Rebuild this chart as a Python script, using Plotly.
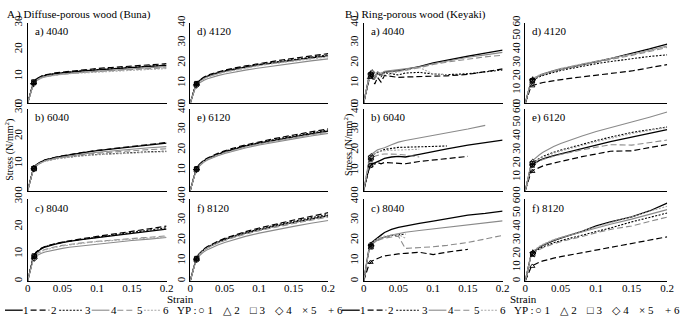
import plotly.graph_objects as go

W, H = 685, 318

# ---------------- data ----------------
STRAIN = [0, 0.004, 0.008, 0.012, 0.016, 0.02, 0.025, 0.03, 0.04, 0.05, 0.06, 0.08, 0.1, 0.12, 0.15, 0.175, 0.2]
SPECIMENS = ["1", "2", "3", "4", "5", "6"]
STRAIN_TICKS = [0, 0.05, 0.1, 0.15, 0.2]
STRAIN_TICK_TEXT = ["0", "0.05", "0.1", "0.15", "0.2"]
N = None

# A) Diffuse-porous wood (Buna)
BUNA_4040 = [
    [0, 3.8, 7.3, 8.8, 9.5, 9.9, 10.3, 10.6, 11.0, 11.3, 11.6, 12.0, 12.4, 12.8, 13.3, 13.7, 14.1],
    [0, 3.9, 7.5, 9.0, 9.7, 10.1, 10.5, 10.8, 11.3, 11.6, 11.9, 12.4, 12.9, 13.3, 13.9, 14.3, 14.7],
    [0, 3.8, 7.4, 8.9, 9.6, 10.0, 10.4, 10.7, 11.1, 11.4, 11.7, 12.1, 12.5, 12.9, 13.4, 13.8, 14.2],
    [0, 3.4, 6.8, 8.3, 9.0, 9.4, 9.8, 10.1, 10.5, 10.8, 11.1, 11.5, 11.9, 12.3, 12.8, 13.2, 13.6],
    [0, 3.6, 7.0, 8.6, 9.3, 9.7, 10.0, 10.3, 10.6, 10.9, 11.1, 11.5, 11.8, 12.1, 12.5, 12.9, 13.2],
    [0, 3.5, 6.9, 8.4, 9.1, 9.5, 9.9, 10.1, 10.5, 10.7, 11.0, 11.3, 11.6, 11.9, 12.3, 12.6, 12.9],
]
BUNA_4120 = [
    [0, 4.5, 9.0, 10.8, 11.8, 12.6, 13.4, 14.0, 15.0, 15.9, 16.6, 17.9, 19.0, 20.0, 21.4, 22.5, 23.5],
    [0, 4.6, 9.3, 11.1, 12.2, 13.0, 13.8, 14.5, 15.5, 16.4, 17.2, 18.5, 19.7, 20.8, 22.3, 23.5, 24.6],
    [0, 4.5, 9.1, 10.9, 11.9, 12.7, 13.5, 14.2, 15.2, 16.1, 16.8, 18.1, 19.3, 20.3, 21.8, 22.9, 24.0],
    [0, 4.0, 8.2, 9.8, 10.7, 11.4, 12.1, 12.7, 13.7, 14.5, 15.2, 16.4, 17.5, 18.5, 19.9, 21.0, 22.0],
    [0, 4.3, 8.8, 10.5, 11.5, 12.3, 13.1, 13.7, 14.7, 15.6, 16.3, 17.6, 18.8, 19.8, 21.2, 22.3, 23.3],
    [0, 4.2, 8.6, 10.3, 11.3, 12.1, 12.9, 13.5, 14.5, 15.4, 16.1, 17.4, 18.6, 19.6, 21.0, 22.1, 23.0],
]
BUNA_6040 = [
    [0, 4.0, 7.8, 9.4, 10.2, 10.7, 11.2, 11.6, 12.2, 12.7, 13.2, 14.0, 14.7, 15.3, 16.2, 16.9, 17.5],
    [0, 4.0, 7.9, 9.5, 10.3, 10.8, 11.3, 11.7, 12.3, 12.8, 13.3, 14.1, 14.8, 15.4, 16.3, 17.0, 17.7],
    [0, 3.9, 7.6, 9.2, 9.9, 10.4, 10.9, 11.2, 11.7, 12.1, 12.4, 12.9, 13.3, 13.6, 14.0, 14.3, 14.5],
    [0, 3.8, 7.5, 9.1, 9.9, 10.4, 10.9, 11.3, 11.9, 12.4, 12.8, 13.5, 14.1, 14.6, 15.3, 15.8, 16.2],
    [0, 3.9, 7.7, 9.3, 10.0, 10.5, 11.0, 11.4, 11.9, 12.3, 12.7, 13.3, 13.8, 14.2, 14.7, 15.1, 15.4],
    [0, 3.8, 7.5, 9.1, 9.8, 10.3, 10.8, 11.1, 11.6, 12.0, 12.3, 12.8, 13.2, 13.5, 13.9, 14.1, 14.3],
]
BUNA_6120 = [
    [0, 5.0, 9.8, 12.2, 13.6, 14.6, 15.6, 16.4, 17.8, 19.0, 20.0, 21.8, 23.3, 24.6, 26.4, 27.8, 29.2],
    [0, 5.1, 10.0, 12.5, 13.9, 15.0, 16.0, 16.9, 18.3, 19.5, 20.6, 22.4, 24.0, 25.4, 27.3, 28.8, 30.3],
    [0, 5.0, 9.9, 12.3, 13.7, 14.8, 15.8, 16.6, 18.0, 19.2, 20.3, 22.1, 23.6, 25.0, 26.8, 28.3, 29.7],
    [0, 4.7, 9.4, 11.7, 13.0, 14.0, 15.0, 15.8, 17.1, 18.2, 19.2, 20.9, 22.4, 23.7, 25.4, 26.8, 28.1],
    [0, 4.9, 9.7, 12.0, 13.4, 14.4, 15.4, 16.2, 17.5, 18.7, 19.7, 21.4, 22.9, 24.2, 26.0, 27.4, 28.7],
    [0, 4.8, 9.6, 11.9, 13.3, 14.3, 15.3, 16.1, 17.4, 18.6, 19.6, 21.3, 22.8, 24.1, 25.8, 27.2, 28.5],
]
BUNA_8040 = [
    [0, 4.3, 8.6, 10.4, 11.3, 11.9, 12.5, 12.9, 13.6, 14.1, 14.6, 15.3, 15.9, 16.5, 17.5, 18.3, 19.1],
    [0, 4.4, 8.8, 10.6, 11.5, 12.1, 12.7, 13.1, 13.8, 14.3, 14.8, 15.6, 16.4, 17.1, 18.2, 19.2, 20.2],
    [0, 4.3, 8.7, 10.5, 11.4, 12.0, 12.6, 13.0, 13.7, 14.2, 14.7, 15.4, 16.1, 16.8, 17.8, 18.7, 19.6],
    [0, 3.9, 7.8, 9.2, 9.8, 10.2, 10.7, 11.0, 11.6, 12.0, 12.4, 13.0, 13.6, 14.1, 14.9, 15.4, 16.0],
    [0, 4.1, 8.2, 9.8, 10.6, 11.1, 11.6, 12.0, 12.6, 13.1, 13.5, 14.1, 14.6, 15.0, 15.6, 16.1, 16.6],
    [0, 4.0, 8.0, 9.6, 10.4, 10.9, 11.4, 11.8, 12.4, 12.9, 13.3, 13.9, 14.5, 14.9, 15.4, 15.8, 16.2],
]
BUNA_8120 = [
    [0, 5.2, 10.2, 12.8, 14.3, 15.4, 16.5, 17.4, 19.0, 20.3, 21.5, 23.5, 25.2, 26.7, 28.8, 30.4, 32.0],
    [0, 5.3, 10.4, 13.0, 14.6, 15.8, 16.9, 17.9, 19.5, 20.9, 22.1, 24.2, 26.0, 27.7, 29.9, 31.7, 33.5],
    [0, 5.2, 10.3, 12.9, 14.4, 15.6, 16.7, 17.6, 19.2, 20.6, 21.8, 23.8, 25.6, 27.2, 29.3, 31.0, 32.7],
    [0, 4.8, 9.6, 12.0, 13.4, 14.4, 15.4, 16.3, 17.7, 18.9, 20.0, 21.9, 23.5, 24.9, 26.8, 28.3, 29.7],
    [0, 5.0, 10.0, 12.5, 14.0, 15.1, 16.2, 17.1, 18.6, 19.9, 21.0, 23.0, 24.7, 26.2, 28.2, 29.8, 31.3],
    [0, 5.1, 10.1, 12.6, 14.1, 15.2, 16.3, 17.2, 18.8, 20.1, 21.3, 23.3, 25.0, 26.5, 28.6, 30.2, 31.8],
]

# B) Ring-porous wood (Keyaki)
KEYAKI_4040 = [
    [0, 7.0, 13.5, 14.8, 12.5, 15.2, 14.0, 15.5, 15.8, 16.2, 16.8, 18.2, 20.0, 21.4, 23.3, 24.8, 26.3],
    [0, 6.5, 12.0, 13.5, 9.5, 12.8, 10.5, 13.8, 13.2, 12.8, 13.0, 13.2, 13.3, 13.6, 14.3, 15.8, 17.0],
    [0, 6.8, 13.0, 14.5, 11.8, 15.0, 13.2, 15.2, 14.5, 14.0, 15.0, 15.3, 14.5, 14.2, 14.6, 15.5, 16.5],
    [0, 7.2, 13.8, 15.3, 13.5, 15.6, 14.8, 15.8, 16.2, 16.6, 17.0, 18.0, 19.6, 21.0, 22.8, 24.0, 25.2],
    [0, 6.9, 13.2, 14.6, 12.2, 14.8, 13.8, 15.2, 15.6, 15.8, 16.3, 17.6, 19.2, 20.4, 22.0, 23.0, 23.8],
    [0, 7.0, 13.3, 15.0, 12.8, 14.5, 15.5, 13.0, 14.8, 15.5, 16.5, 17.8, 14.5, 14.2, N, N, N],
]
KEYAKI_4120 = [
    [0, 8.0, 16.0, 18.2, 19.5, 20.5, 21.6, 22.5, 24.0, 25.4, 26.6, 28.8, 31.0, 33.2, 37.0, 40.4, 44.0],
    [0, 6.5, 12.5, 13.5, 14.2, 14.8, 15.4, 15.9, 16.8, 17.6, 18.3, 19.6, 20.8, 22.0, 24.0, 26.4, 28.7],
    [0, 7.8, 15.5, 17.6, 18.8, 19.7, 20.7, 21.5, 23.0, 24.3, 25.4, 27.5, 29.4, 31.0, 33.3, 34.8, 36.0],
    [0, 8.1, 16.3, 18.4, 19.7, 20.7, 21.8, 22.7, 24.2, 25.6, 26.8, 29.0, 31.0, 33.0, 36.4, 39.4, 42.6],
    [0, 8.0, 15.8, 18.0, 19.3, 20.3, 21.3, 22.2, 23.7, 25.0, 26.2, 28.4, 30.4, 32.4, 35.6, 38.5, 41.5],
    [0, 8.2, 16.5, 18.8, 20.1, 21.1, 22.1, 23.0, 24.5, 25.9, 27.1, 29.3, 31.3, 33.2, 36.3, 39.0, 42.0],
]
KEYAKI_6040 = [
    [0, 6.0, 11.5, 13.0, 13.5, 14.0, 15.0, 15.8, 16.5, 16.8, 16.5, 17.8, 19.2, 20.5, 22.3, 23.6, 24.8],
    [0, 5.8, 11.0, 13.5, 13.0, 13.8, 13.2, 13.8, 13.6, 13.7, 13.2, 14.3, 15.0, 15.6, 16.8, N, N],
    [0, 7.5, 14.5, 17.5, 18.0, 18.8, 19.5, 20.2, 20.8, 21.2, 21.3, 21.5, 21.6, 21.9, N, N, N],
    [0, 8.0, 15.5, 18.0, 19.2, 20.0, 20.5, 21.0, 22.5, 23.8, 24.6, 25.8, 27.0, 28.3, 30.2, 32.0, N],
    [0, 7.0, 13.5, 16.5, 17.0, 17.5, 17.8, 18.0, 18.0, 17.8, 17.5, 16.5, N, N, N, N, N],
    [0, 7.2, 14.0, 17.0, 18.5, 19.0, 19.4, 19.6, 19.8, 20.0, 20.2, 20.3, N, N, N, N, N],
]
KEYAKI_6120 = [
    [0, 9.0, 17.5, 19.8, 21.2, 22.3, 23.4, 24.3, 25.8, 27.0, 28.2, 30.7, 33.5, 36.0, 39.5, 42.2, 44.8],
    [0, 7.0, 13.5, 15.2, 16.3, 17.2, 18.2, 19.0, 20.4, 21.6, 22.7, 25.0, 27.0, 29.0, 29.3, 31.6, 34.0],
    [0, 9.5, 18.5, 21.0, 22.6, 23.8, 25.2, 26.3, 28.2, 29.8, 31.3, 34.0, 36.8, 39.4, 42.8, 44.8, 46.8],
    [0, 10.0, 19.5, 22.8, 24.8, 26.4, 28.2, 29.8, 32.4, 34.7, 36.7, 40.2, 43.5, 46.5, 50.5, 54.0, 57.8],
    [0, 9.0, 17.5, 19.5, 20.8, 21.8, 22.9, 23.8, 25.3, 26.6, 27.8, 30.0, 32.0, 33.8, 33.5, 35.3, 37.2],
    [0, 9.3, 18.0, 20.6, 22.1, 23.3, 24.6, 25.7, 27.5, 29.1, 30.6, 33.3, 36.0, 38.6, 42.0, 44.3, 46.5],
]
KEYAKI_8040 = [
    [0, 8.5, 16.5, 19.0, 20.2, 21.0, 22.5, 23.8, 25.3, 26.3, 27.0, 28.3, 29.4, 30.5, 32.3, 33.2, 34.3],
    [0, 4.5, 8.5, 9.8, 10.5, 11.2, 11.8, 12.3, 12.9, 13.3, 13.6, 14.1, 13.0, 14.2, 15.5, N, N],
    [0, 8.0, 15.5, 18.0, 19.5, 20.3, 21.0, 21.6, 22.3, 22.8, 23.0, N, N, N, N, N, N],
    [0, 8.2, 16.0, 18.3, 19.3, 20.0, 20.8, 21.5, 22.5, 23.3, 23.9, 24.8, 25.6, 26.4, 27.6, 28.6, 29.5],
    [0, 8.1, 15.8, 18.2, 19.2, 19.8, 20.5, 21.0, 21.6, 22.0, 16.0, 16.3, 16.8, 17.5, 18.9, 20.6, 22.4],
    [0, 8.3, 16.2, 18.8, 19.9, 20.7, 21.5, 22.0, 22.6, 22.9, 21.0, N, N, N, N, N, N],
]
KEYAKI_8120 = [
    [0, 10.0, 19.0, 21.8, 23.5, 24.8, 26.3, 27.5, 29.7, 31.5, 33.1, 36.5, 40.6, 43.5, 47.2, 51.5, 57.3],
    [0, 5.5, 10.0, 11.8, 13.0, 13.9, 14.8, 15.6, 16.8, 17.9, 18.9, 20.9, 22.8, 24.6, 27.5, 30.0, 32.5],
    [0, 9.8, 18.5, 21.0, 22.6, 23.8, 25.2, 26.3, 28.2, 29.7, 31.0, 33.6, 36.4, 39.0, 43.5, 47.0, 50.0],
    [0, 10.0, 19.2, 22.0, 23.8, 25.2, 26.7, 28.0, 30.1, 31.8, 33.3, 36.2, 39.2, 41.8, 45.5, 49.0, 52.5],
    [0, 9.6, 18.2, 20.6, 22.1, 23.2, 24.5, 25.6, 27.4, 28.9, 30.2, 32.8, 35.5, 38.0, 40.5, 44.0, 47.0],
    [0, 10.2, 19.5, 22.3, 24.2, 25.6, 27.1, 28.4, 30.5, 32.2, 33.7, 36.7, 39.8, 42.8, 47.5, 51.3, 55.0],
]

# yield points (strain, stress) for specimens 1..6
YP_BUNA_4040 = ([0.009, 0.0085, 0.009, 0.0085, 0.009, 0.0085], [7.8, 7.6, 7.9, 7.2, 7.6, 7.3])
YP_BUNA_4120 = ([0.009, 0.009, 0.0095, 0.009, 0.0085, 0.009], [9.6, 9.8, 9.7, 8.9, 9.4, 9.2])
YP_BUNA_6040 = ([0.009, 0.009, 0.0095, 0.009, 0.0085, 0.009], [8.3, 8.5, 8.1, 8.0, 8.2, 8.0])
YP_BUNA_6120 = ([0.009, 0.009, 0.0095, 0.009, 0.0085, 0.009], [10.6, 10.9, 10.7, 10.2, 10.5, 10.4])
YP_BUNA_8040 = ([0.0095, 0.01, 0.0095, 0.0095, 0.009, 0.0095], [9.1, 9.3, 9.2, 8.3, 8.7, 8.5])
YP_BUNA_8120 = ([0.009, 0.009, 0.0095, 0.009, 0.0085, 0.009], [10.9, 11.2, 11.0, 10.3, 10.7, 10.8])
YP_KEYAKI_4040 = ([0.011, 0.009, 0.01, 0.012, 0.011, 0.01], [14.5, 12.8, 14.0, 15.2, 14.3, 14.5])
YP_KEYAKI_4120 = ([0.01, 0.01, 0.01, 0.0105, 0.01, 0.0105], [17.0, 13.0, 16.5, 17.3, 16.9, 17.6])
YP_KEYAKI_6040 = ([0.01, 0.01, 0.0105, 0.011, 0.01, 0.0105], [12.3, 12.2, 16.0, 16.8, 15.0, 15.5])
YP_KEYAKI_6120 = ([0.01, 0.01, 0.01, 0.0105, 0.01, 0.0105], [18.7, 14.2, 19.8, 21.0, 18.5, 19.3])
YP_KEYAKI_8040 = ([0.0105, 0.01, 0.0105, 0.011, 0.01, 0.0105], [17.8, 9.2, 16.8, 17.2, 17.0, 17.5])
YP_KEYAKI_8120 = ([0.0105, 0.01, 0.0105, 0.011, 0.01, 0.0105], [20.4, 10.9, 19.8, 20.6, 19.4, 20.9])

# ---------------- styling ----------------
FONT = "Liberation Serif, Times New Roman, DejaVu Serif, serif"
LINE_STYLES = [
    dict(color="#000000", width=1.3, dash="solid"),
    dict(color="#000000", width=1.2, dash="6px,3px"),
    dict(color="#000000", width=1.1, dash="2px,1.5px"),
    dict(color="#8a8a8a", width=1.1, dash="solid"),
    dict(color="#8a8a8a", width=1.1, dash="6px,3px"),
    dict(color="#a8a8a8", width=1.1, dash="2px,1.5px"),
]
YP_SYMBOLS = ["circle-open", "triangle-up-open", "square-open", "diamond-open", "x-thin-open", "cross-thin-open"]

COLS_PX = [(25, 166), (190, 330), (366, 507), (530, 674)]
ROWS_PX = [(15, 98), (104, 188), (197, 281)]

# (label, data, yield points, ymax, column index, row index)
PANELS = [
    ("a) 4040", BUNA_4040, YP_BUNA_4040, 30, 0, 0),
    ("b) 6040", BUNA_6040, YP_BUNA_6040, 30, 0, 1),
    ("c) 8040", BUNA_8040, YP_BUNA_8040, 30, 0, 2),
    ("d) 4120", BUNA_4120, YP_BUNA_4120, 40, 1, 0),
    ("e) 6120", BUNA_6120, YP_BUNA_6120, 40, 1, 1),
    ("f) 8120", BUNA_8120, YP_BUNA_8120, 40, 1, 2),
    ("a) 4040", KEYAKI_4040, YP_KEYAKI_4040, 40, 2, 0),
    ("b) 6040", KEYAKI_6040, YP_KEYAKI_6040, 40, 2, 1),
    ("c) 8040", KEYAKI_8040, YP_KEYAKI_8040, 40, 2, 2),
    ("d) 4120", KEYAKI_4120, YP_KEYAKI_4120, 60, 3, 0),
    ("e) 6120", KEYAKI_6120, YP_KEYAKI_6120, 60, 3, 1),
    ("f) 8120", KEYAKI_8120, YP_KEYAKI_8120, 60, 3, 2),
]


def fx(px):
    return px / W


def fy(py):
    return 1 - py / H


fig = go.Figure()
layout = {}
annotations = []
shapes = []
TXT = dict(family=FONT, size=11, color="black")

for i, (label, data, yp, ymax, ci, ri) in enumerate(PANELS, start=1):
    xa = "x" if i == 1 else f"x{i}"
    ya = "y" if i == 1 else f"y{i}"
    for j, series in enumerate(data):
        fig.add_trace(go.Scatter(
            x=STRAIN, y=series, mode="lines", name=SPECIMENS[j],
            line=LINE_STYLES[j], xaxis=xa, yaxis=ya, showlegend=False,
            connectgaps=False, hoverinfo="skip"))
    fig.add_trace(go.Scatter(
        x=yp[0], y=yp[1], mode="markers", xaxis=xa, yaxis=ya, showlegend=False,
        marker=dict(symbol=YP_SYMBOLS, size=4.5, color="black",
                    line=dict(width=0.9, color="black")),
        hoverinfo="skip"))

    x0, x1 = COLS_PX[ci]
    y0, y1 = ROWS_PX[ri]
    xkey = "xaxis" if i == 1 else f"xaxis{i}"
    ykey = "yaxis" if i == 1 else f"yaxis{i}"
    layout[xkey] = dict(
        domain=[fx(x0), fx(x1)], anchor=ya, range=[0, 0.2],
        showline=True, linecolor="black", linewidth=1, ticks="",
        showgrid=False, zeroline=False, fixedrange=True,
        tickvals=STRAIN_TICKS, ticktext=STRAIN_TICK_TEXT,
        showticklabels=(ri == 2), ticklabelstandoff=-3,
        tickfont=TXT)
    layout[ykey] = dict(
        domain=[fy(y1), fy(y0)], anchor=xa, range=[0, ymax],
        showline=True, linecolor="black", linewidth=1, ticks="",
        showgrid=False, zeroline=False, dtick=10, tick0=0, fixedrange=True,
        tickangle=-90,
        tickfont=TXT)
    annotations.append(dict(
        text=label, x=fx(x0 + 5), y=fy(y0 + 9), xref="paper", yref="paper",
        xanchor="left", yanchor="middle", showarrow=False, font=TXT))

# group titles
for text, xp in [("A ) Diffuse-porous wood (Buna)", 2), ("B ) Ring-porous wood (Keyaki)", 345)]:
    annotations.append(dict(
        text=text, x=fx(xp), y=fy(7), xref="paper", yref="paper",
        xanchor="left", yanchor="middle", showarrow=False, font=TXT))

# y axis titles
for xp, yp_ in [(7, 146), (350, 141)]:
    annotations.append(dict(
        text="Stress (N/mm<sup>2</sup>)", x=fx(xp), y=fy(yp_), xref="paper", yref="paper",
        xanchor="center", yanchor="middle", textangle=-90, showarrow=False,
        font=dict(family=FONT, size=10, color="black")))

# x axis titles
for xp in [180, 528]:
    annotations.append(dict(
        text="Strain", x=fx(xp), y=fy(299), xref="paper", yref="paper",
        xanchor="center", yanchor="middle", showarrow=False, font=TXT))

# legends (one under each group)
LEG_Y = 311
LINE_SEGS = [(2, 20), (28, 47), (57, 80), (90, 108), (116, 134), (143, 160)]
NUM_X = [23, 52, 86, 113, 139, 165]
YP_TEXT = ["○ 1", "△ 2", "□ 3", "◇ 4", "× 5", "+ 6"]
YP_X = [205, 232, 258, 285, 311, 337]
for off in [0, 342]:
    for j, (a, b) in enumerate(LINE_SEGS):
        st = LINE_STYLES[j]
        shapes.append(dict(
            type="line", xref="paper", yref="paper",
            x0=fx(a + off), x1=fx(b + off), y0=fy(LEG_Y), y1=fy(LEG_Y),
            line=dict(color=st["color"], width=st["width"], dash=st["dash"])))
        annotations.append(dict(
            text=SPECIMENS[j], x=fx(NUM_X[j] + off), y=fy(LEG_Y), xref="paper", yref="paper",
            xanchor="center", yanchor="middle", showarrow=False, borderpad=0, font=TXT))
    annotations.append(dict(
        text="YP :", x=fx(176 + off), y=fy(LEG_Y), xref="paper", yref="paper",
        xanchor="left", yanchor="middle", showarrow=False, borderpad=0, font=TXT))
    for j, t in enumerate(YP_TEXT):
        annotations.append(dict(
            text=t, x=fx(YP_X[j] + off), y=fy(LEG_Y), xref="paper", yref="paper",
            xanchor="center", yanchor="middle", showarrow=False, borderpad=0, font=TXT))

fig.update_layout(
    width=W, height=H,
    margin=dict(l=0, r=0, t=0, b=0),
    paper_bgcolor="white", plot_bgcolor="white",
    showlegend=False, hovermode=False,
    annotations=annotations, shapes=shapes,
    font=TXT,
    **layout)

fig.write_html(
    "out.html",
    config={"displayModeBar": False, "staticPlot": True},
    post_script="document.body.style.margin='0';document.body.style.padding='0';")
